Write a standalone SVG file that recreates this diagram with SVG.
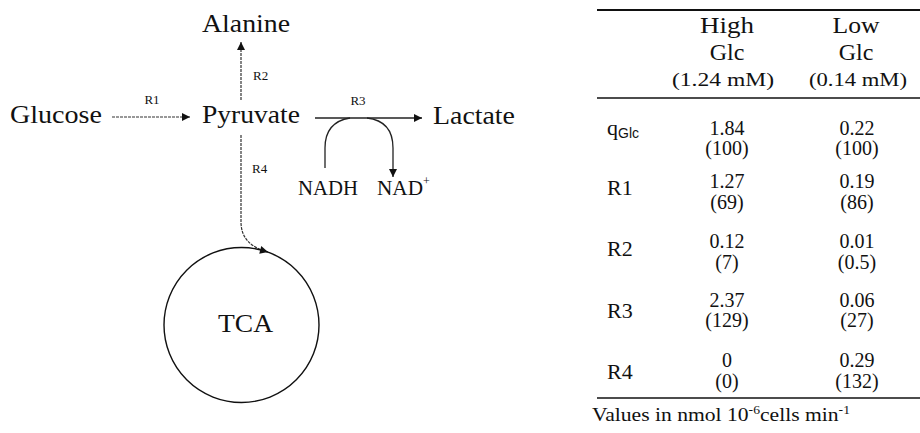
<svg xmlns="http://www.w3.org/2000/svg" width="920" height="433" viewBox="0 0 920 433">
<defs>
<style>
text{font-family:"Liberation Serif","Times New Roman",serif;fill:#111}
.big{font-size:25px}
.mid{font-size:20px}
.sm{font-size:13px}
.val{font-size:20px;text-anchor:middle}
.hdr{font-size:24px;text-anchor:middle}
.unit{font-size:19px;text-anchor:middle}
.lab{font-size:22px}
.ft{font-size:19px}
.ln{stroke:#222;stroke-width:1.3;fill:none}
.dl{stroke:#333;stroke-width:1.2;fill:none;stroke-dasharray:3 1}
.rule{stroke:#111;fill:none}
</style>
<marker id="ah" viewBox="0 0 10 10" refX="10" refY="5" markerWidth="9" markerHeight="8" markerUnits="userSpaceOnUse" orient="auto"><path d="M0,0 L10,5 L0,10 Z" fill="#111"/></marker>
</defs>
<rect width="920" height="433" fill="#fff"/>
<g id="connectors">
<line class="dl" x1="112" y1="117" x2="190" y2="117" marker-end="url(#ah)"/>
<text class="sm" x="152" y="104" text-anchor="middle">R1</text>
<line class="dl" x1="241" y1="100" x2="241" y2="42" marker-end="url(#ah)"/>
<text class="sm" x="253" y="80">R2</text>
<line class="ln" x1="315" y1="118" x2="422" y2="118" marker-end="url(#ah)"/>
<text class="sm" x="358" y="105" text-anchor="middle">R3</text>
<path class="ln" d="M325,168 V148 Q325,122 350,118"/>
<path class="ln" d="M367,118 Q393,121 393,148 V177" marker-end="url(#ah)"/>
<path class="dl" d="M241,135 V222 Q241,245 268,252" marker-end="url(#ah)"/>
<text class="sm" x="252" y="173">R4</text>
</g>
<g id="glucose"><text class="big" x="10" y="123" textLength="92" lengthAdjust="spacingAndGlyphs">Glucose</text></g>
<g id="pyruvate"><text class="big" x="202" y="123" textLength="98" lengthAdjust="spacingAndGlyphs">Pyruvate</text></g>
<g id="alanine"><text class="big" x="202" y="32" textLength="88" lengthAdjust="spacingAndGlyphs">Alanine</text></g>
<g id="lactate"><text class="big" x="433" y="124" textLength="82" lengthAdjust="spacingAndGlyphs">Lactate</text></g>
<g id="nadh"><text class="mid" x="298" y="195" textLength="60" lengthAdjust="spacingAndGlyphs">NADH</text></g>
<g id="nad"><text class="mid" x="377" y="195" textLength="46" lengthAdjust="spacingAndGlyphs">NAD</text><text x="423" y="185" font-size="12">+</text></g>
<g id="tca">
<circle cx="241.5" cy="325" r="77.5" fill="none" stroke="#111" stroke-width="1.4"/>
<text class="big" x="218" y="332" textLength="55" lengthAdjust="spacingAndGlyphs">TCA</text>
</g>
<g id="table">
<line class="rule" x1="597" y1="10" x2="920" y2="10" stroke-width="2"/>
<line class="rule" x1="597" y1="98" x2="920" y2="98" stroke-width="1.6"/>
<line class="rule" x1="597" y1="398" x2="920" y2="398" stroke-width="1.3"/>
<text class="hdr" x="727" y="33" textLength="54" lengthAdjust="spacingAndGlyphs">High</text>
<text class="hdr" x="727" y="60">Glc</text>
<text class="unit" x="723" y="86" textLength="102" lengthAdjust="spacingAndGlyphs">(1.24 mM)</text>
<text class="hdr" x="856" y="33" textLength="47" lengthAdjust="spacingAndGlyphs">Low</text>
<text class="hdr" x="856" y="60">Glc</text>
<text class="unit" x="858" y="86" textLength="98" lengthAdjust="spacingAndGlyphs">(0.14 mM)</text>
<text class="lab" x="607" y="135">q<tspan font-size="14" font-family="Liberation Sans, Arial, sans-serif" dy="3">Glc</tspan></text>
<text class="val" x="727" y="135">1.84</text><text class="val" x="727" y="155">(100)</text>
<text class="val" x="857" y="135">0.22</text><text class="val" x="857" y="155">(100)</text>
<text class="lab" x="607" y="195">R1</text>
<text class="val" x="727" y="188">1.27</text><text class="val" x="727" y="209">(69)</text>
<text class="val" x="857" y="188">0.19</text><text class="val" x="857" y="209">(86)</text>
<text class="lab" x="607" y="256">R2</text>
<text class="val" x="727" y="248">0.12</text><text class="val" x="727" y="269">(7)</text>
<text class="val" x="857" y="248">0.01</text><text class="val" x="857" y="269">(0.5)</text>
<text class="lab" x="607" y="318">R3</text>
<text class="val" x="727" y="307">2.37</text><text class="val" x="727" y="327">(129)</text>
<text class="val" x="857" y="307">0.06</text><text class="val" x="857" y="327">(27)</text>
<text class="lab" x="607" y="379">R4</text>
<text class="val" x="727" y="367">0</text><text class="val" x="727" y="388">(0)</text>
<text class="val" x="857" y="367">0.29</text><text class="val" x="857" y="388">(132)</text>
<text class="ft" x="592" y="421" textLength="258" lengthAdjust="spacingAndGlyphs">Values in nmol 10<tspan font-size="12" dy="-7">-6</tspan><tspan dy="7">cells min</tspan><tspan font-size="12" dy="-7">-1</tspan></text>
</g>
</svg>
